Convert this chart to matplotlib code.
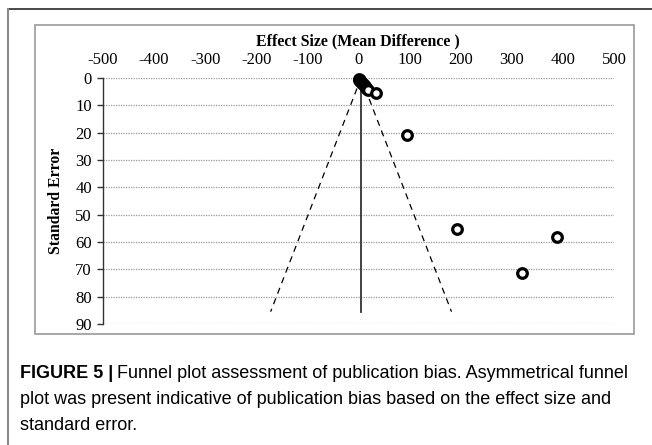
import matplotlib
matplotlib.use("Agg")
import matplotlib.pyplot as plt
from matplotlib.lines import Line2D
from matplotlib.patches import Rectangle

plt.rcParams["axes.unicode_minus"] = False

# ---- data ----
effect_size = [0, 1, 2, 3, 5, 6, 8, 10, 12, 14, 16, 18, 35, 94, 193, 388, 319]
std_error = [0.6, 0.5, 0.8, 1.0, 1.5, 1.8, 2.2, 2.7, 3.1, 3.5, 4.0, 4.4, 5.4, 20.7, 55.2, 58.3, 71.3]
x_ticks = [-500, -400, -300, -200, -100, 0, 100, 200, 300, 400, 500]
y_ticks = [0, 10, 20, 30, 40, 50, 60, 70, 80, 90]
center_effect = 5
funnel_bottom_se = 85.5
funnel_left = -172
funnel_right = 182

W, H = 652, 445
fig = plt.figure(figsize=(W / 100, H / 100), dpi=100)

def fx(px):
    return px / W

def fy(py):
    return 1 - py / H

# outer frame (open box: top and left)
fig.add_artist(Line2D([fx(8), fx(652)], [fy(9), fy(9)], color="#3a3a3a", lw=1.3))
fig.add_artist(Line2D([fx(8), fx(8)], [fy(9), fy(445)], color="#8a8a8a", lw=1.5))
# inner chart box
fig.add_artist(Rectangle((fx(35), fy(334)), fx(634) - fx(35), fy(25) - fy(334),
                         fill=False, edgecolor="#9a9a9a", lw=1.2))

ax = fig.add_axes([fx(103), fy(324), fx(614) - fx(103), fy(78) - fy(324)])
ax.set_xlim(-500, 500)
ax.set_ylim(90, 0)
ax.set_xticks(x_ticks)
ax.set_yticks(y_ticks)
ax.xaxis.tick_top()
ax.tick_params(axis="x", length=0, pad=7, labelsize=12)
ax.tick_params(axis="y", length=4, width=1, color="#333333", pad=4, labelsize=12)
for lab in ax.get_xticklabels() + ax.get_yticklabels():
    lab.set_fontfamily("Liberation Serif")
for s in ["top", "right", "bottom"]:
    ax.spines[s].set_visible(False)
ax.spines["left"].set_color("#333333")
ax.spines["left"].set_linewidth(1.0)

for yv in y_ticks:
    ax.axhline(yv, color="#9a9a9a", lw=0.9, ls=(0, (1, 1)), zorder=0)

# funnel
ax.plot([center_effect, center_effect], [0, funnel_bottom_se], color="#333333", lw=1.3, zorder=2)
ax.plot([center_effect, funnel_left], [0, funnel_bottom_se], color="black", lw=0.9,
        ls=(0, (5, 4)), zorder=2)
ax.plot([center_effect, funnel_right], [0, funnel_bottom_se], color="black", lw=0.9,
        ls=(0, (5, 4)), zorder=2)

ax.scatter(effect_size, std_error, s=48, facecolors="white", edgecolors="black",
           linewidths=2.3, zorder=3, clip_on=False)

fig.text(fx(358), fy(41), "Effect Size (Mean Difference )", ha="center", va="center",
         fontfamily="Liberation Serif", fontweight="bold", fontsize=11.4)
fig.text(fx(56), fy(201), "Standard Error", ha="center", va="center", rotation=90,
         fontfamily="Liberation Serif", fontweight="bold", fontsize=11.3)

# caption
cap_size = 13
cap_x = fx(20)
t1 = fig.text(cap_x, fy(373), "FIGURE 5 |", ha="left", va="center",
              fontfamily="Liberation Sans", fontweight="bold", fontsize=cap_size)
fig.canvas.draw()
r = fig.canvas.get_renderer()
bb = t1.get_window_extent(r)
fig.text(bb.x1 / W + 4 / W, fy(373), "Funnel plot assessment of publication bias. Asymmetrical funnel",
         ha="left", va="center", fontfamily="Liberation Sans", fontsize=cap_size)
fig.text(cap_x, fy(399), "plot was present indicative of publication bias based on the effect size and",
         ha="left", va="center", fontfamily="Liberation Sans", fontsize=cap_size)
fig.text(cap_x, fy(425), "standard error.", ha="left", va="center",
         fontfamily="Liberation Sans", fontsize=cap_size)

fig.savefig("out.png", dpi=100)
